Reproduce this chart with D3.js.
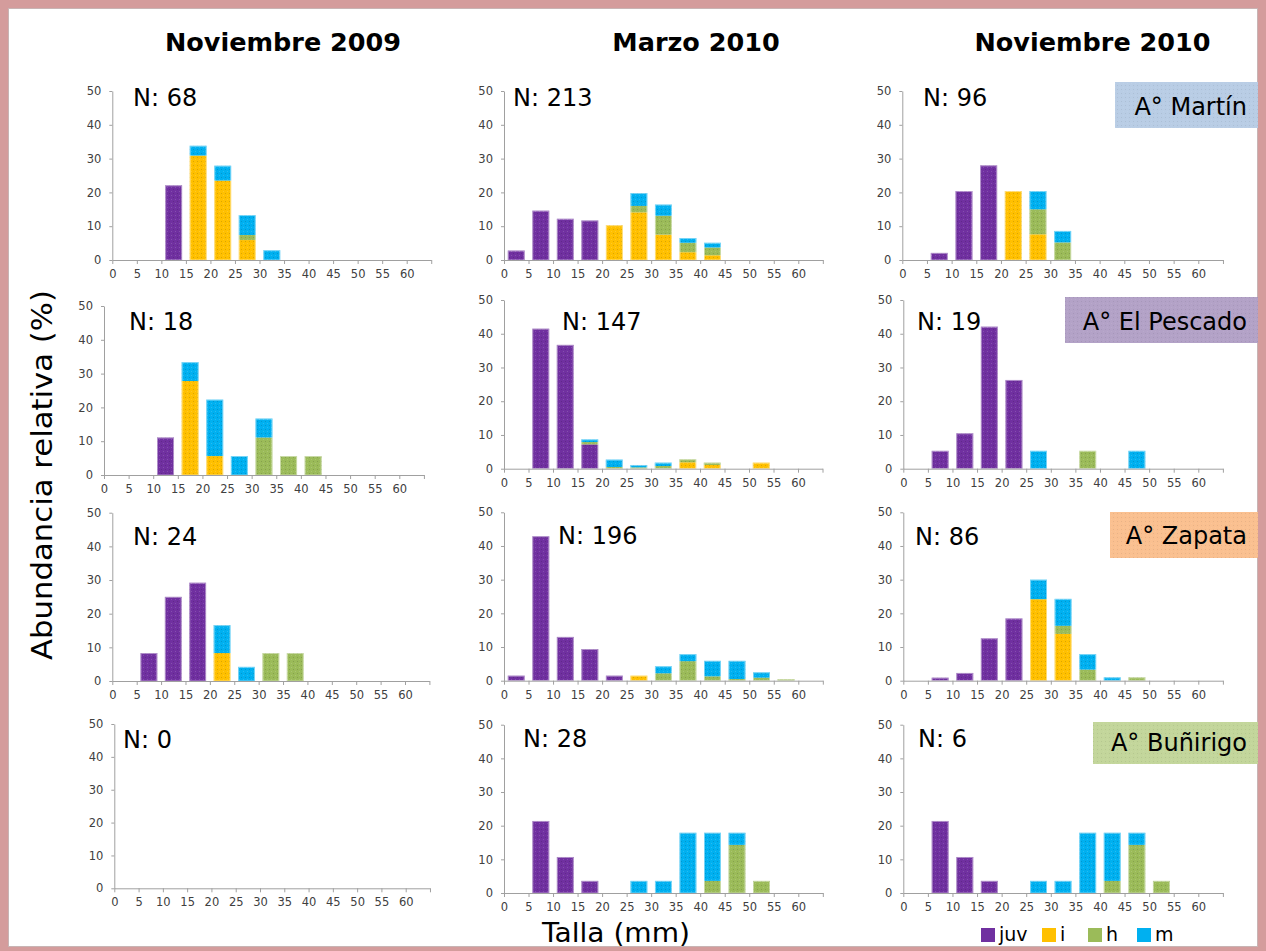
<!DOCTYPE html>
<html><head><meta charset="utf-8">
<script src="https://cdn.jsdelivr.net/npm/d3@7"></script>
<style>
body{margin:0;background:#fff}
svg{display:block}
text{font-family:"DejaVu Sans",Verdana,sans-serif}
</style>
</head><body>
<svg id="c" width="1266" height="951"></svg>
<script>
// ---------- DATA ----------
const binStarts = [0,5,10,15,20,25,30,35,40,45,50,55,60];
const seriesKeys = ["juv","i","h","m"];
const xTickValues = [0,5,10,15,20,25,30,35,40,45,50,55,60,65];
const yTickValues = [0,10,20,30,40,50];
const periods = ["Noviembre 2009","Marzo 2010","Noviembre 2010"];
const sites = ["A° Martín","A° El Pescado","A° Zapata","A° Buñirigo"];
const sampleN = [[68,213,96],[18,147,19],[24,196,86],[0,28,6]];

const martinNov09 = {
  juv:[0,0,22.1,0,0,0,0,0,0,0,0,0,0],
  i:  [0,0,0,30.9,23.5,5.9,0,0,0,0,0,0,0],
  h:  [0,0,0,0,0,1.5,0,0,0,0,0,0,0],
  m:  [0,0,0,2.9,4.4,5.9,2.9,0,0,0,0,0,0]};
const martinMar10 = {
  juv:[2.8,14.6,12.2,11.7,0,0,0,0,0,0,0,0,0],
  i:  [0,0,0,0,10.3,14.1,7.5,2.3,1.4,0,0,0,0],
  h:  [0,0,0,0,0,1.9,5.6,2.8,2.3,0,0,0,0],
  m:  [0,0,0,0,0,3.8,3.3,1.4,1.4,0,0,0,0]};
const martinNov10 = {
  juv:[0,2.1,20.4,28.0,0,0,0,0,0,0,0,0,0],
  i:  [0,0,0,0,20.4,7.6,0,0,0,0,0,0,0],
  h:  [0,0,0,0,0,7.4,5.2,0,0,0,0,0,0],
  m:  [0,0,0,0,0,5.4,3.4,0,0,0,0,0,0]};
const pescadoNov09 = {
  juv:[0,0,11.1,0,0,0,0,0,0,0,0,0,0],
  i:  [0,0,0,27.8,5.6,0,0,0,0,0,0,0,0],
  h:  [0,0,0,0,0,0,11.1,5.6,5.6,0,0,0,0],
  m:  [0,0,0,5.6,16.7,5.6,5.6,0,0,0,0,0,0]};
const pescadoMar10 = {
  juv:[0,41.5,36.7,7.2,0,0,0,0,0,0,0,0,0],
  i:  [0,0,0,0,0,0,0,1.9,1.1,0,1.8,0,0],
  h:  [0,0,0,0.7,0.5,0.4,0.8,0.9,0.7,0,0,0,0],
  m:  [0,0,0,0.8,2.2,0.7,1.0,0,0,0,0,0,0]};
const pescadoNov10 = {
  juv:[0,5.3,10.5,42.1,26.3,0,0,0,0,0,0,0,0],
  i:  [0,0,0,0,0,0,0,0,0,0,0,0,0],
  h:  [0,0,0,0,0,0,0,5.3,0,0,0,0,0],
  m:  [0,0,0,0,0,5.3,0,0,0,5.3,0,0,0]};
const zapataNov09 = {
  juv:[0,8.3,25.0,29.2,0,0,0,0,0,0,0,0,0],
  i:  [0,0,0,0,8.3,0,0,0,0,0,0,0,0],
  h:  [0,0,0,0,0,0,8.3,8.3,0,0,0,0,0],
  m:  [0,0,0,0,8.3,4.2,0,0,0,0,0,0,0]};
const zapataMar10 = {
  juv:[1.5,42.9,13.0,9.4,1.5,0,0,0,0,0,0,0,0],
  i:  [0,0,0,0,0,1.5,0,0,0,0,0,0,0],
  h:  [0,0,0,0,0,0,2.2,5.8,1.3,0.5,0.9,0.5,0],
  m:  [0,0,0,0,0,0,2.1,2.1,4.6,5.4,1.6,0,0]};
const zapataNov10 = {
  juv:[0,0.9,2.3,12.6,18.5,0,0,0,0,0,0,0,0],
  i:  [0,0,0,0,0,24.2,13.9,0,0,0,0,0,0],
  h:  [0,0,0,0,0,0,2.4,3.3,0,1.0,0,0,0],
  m:  [0,0,0,0,0,5.8,8.0,4.6,1.0,0,0,0,0]};
const bunirigoNov09 = {
  juv:[0,0,0,0,0,0,0,0,0,0,0,0,0],
  i:  [0,0,0,0,0,0,0,0,0,0,0,0,0],
  h:  [0,0,0,0,0,0,0,0,0,0,0,0,0],
  m:  [0,0,0,0,0,0,0,0,0,0,0,0,0]};
const bunirigoMar10 = {
  juv:[0,21.4,10.7,3.6,0,0,0,0,0,0,0,0,0],
  i:  [0,0,0,0,0,0,0,0,0,0,0,0,0],
  h:  [0,0,0,0,0,0,0,0,3.6,14.3,3.6,0,0],
  m:  [0,0,0,0,0,3.6,3.6,17.9,14.3,3.6,0,0,0]};
const bunirigoNov10 = {
  juv:[0,21.4,10.7,3.6,0,0,0,0,0,0,0,0,0],
  i:  [0,0,0,0,0,0,0,0,0,0,0,0,0],
  h:  [0,0,0,0,0,0,0,0,3.6,14.3,3.6,0,0],
  m:  [0,0,0,0,0,3.6,3.6,17.9,14.3,3.6,0,0,0]};

const panelData = [
  [martinNov09, martinMar10, martinNov10],
  [pescadoNov09, pescadoMar10, pescadoNov10],
  [zapataNov09, zapataMar10, zapataNov10],
  [bunirigoNov09, bunirigoMar10, bunirigoNov10]];

// ---------- LAYOUT / STYLE ----------
const colors = {juv:"#7030a0", i:"#ffc000", h:"#9bbb59", m:"#00b0f0"};
const frames = [
  [{x0:112.3,x60:406.7,y0:260,y50:91},{x0:504,x60:798.3,y0:260,y50:91},{x0:902.3,x60:1198.3,y0:260,y50:91}],
  [{x0:104,x60:399.3,y0:475,y50:306},{x0:504,x60:798,y0:468.7,y50:300},{x0:903.3,x60:1198.3,y0:468.7,y50:300}],
  [{x0:112.3,x60:405,y0:681,y50:512.7},{x0:504,x60:798.3,y0:680.7,y50:512.3},{x0:903.3,x60:1198.3,y0:680.7,y50:512.3}],
  [{x0:114.3,x60:405.7,y0:888.3,y50:724},{x0:504,x60:798.3,y0:893,y50:724.7},{x0:903.3,x60:1198.3,y0:893,y50:724.7}]];
const nPos = [
  [[133,106],[513,106],[923,106]],
  [[129,330],[562,330],[917,330]],
  [[133,545],[558,544],[915,545]],
  [[123,748],[523,747],[918,747]]];
const siteBoxes = [
  {x:1115,y:82,w:143,h:46,fill:"#b9cde5",base:115},
  {x:1065,y:297,w:193,h:46,fill:"#b3a2c7",base:330},
  {x:1110,y:512,w:148,h:46,fill:"#fac090",base:544},
  {x:1093,y:722,w:165,h:42,fill:"#c3d69b",base:751}];
const titleX = [283,696,1092.5];

const svg = d3.select("#c");
const defs = svg.append("defs");
const pat = defs.append("pattern").attr("id","dots").attr("patternUnits","userSpaceOnUse")
  .attr("width",4).attr("height",4);
pat.append("rect").attr("x",1).attr("y",1).attr("width",1).attr("height",1).attr("fill","rgba(0,0,0,0.14)");
pat.append("rect").attr("x",3).attr("y",3).attr("width",1).attr("height",1).attr("fill","rgba(255,255,255,0.15)");

svg.append("rect").attr("x",0).attr("y",0).attr("width",1266).attr("height",951).attr("fill","#fff");

// frame (drawn first so texts stay on top)
const frameColor = "#d49c9c";
svg.append("rect").attr("x",0).attr("y",0).attr("width",1266).attr("height",8).attr("fill",frameColor);
svg.append("rect").attr("x",0).attr("y",0).attr("width",8).attr("height",951).attr("fill",frameColor);
svg.append("rect").attr("x",1258).attr("y",0).attr("width",8).attr("height",951).attr("fill",frameColor);
svg.append("rect").attr("x",0).attr("y",947).attr("width",1266).attr("height",4).attr("fill",frameColor);
svg.append("rect").attr("x",8.5).attr("y",8.5).attr("width",1249).attr("height",938)
  .attr("fill","none").attr("stroke","#c8b4b4").attr("stroke-width",1);

// column titles
periods.forEach((p,c)=>{
  svg.append("text").attr("x",titleX[c]).attr("y",51).attr("text-anchor","middle")
    .attr("font-size",25.5).attr("font-weight","bold").attr("fill","#000").text(p);
});

const stack = d3.stack().keys(seriesKeys);

panelData.forEach((row,r)=>{
  row.forEach((pd,c)=>{
    const f = frames[r][c];
    const step = (f.x60-f.x0)/12;
    const x = d3.scaleLinear().domain([0,65]).range([f.x0, f.x0+13*step]);
    const y = d3.scaleLinear().domain([0,50]).range([f.y0, f.y50]);
    const band = d3.scaleBand().domain(binStarts).range([x(0),x(65)]).paddingInner(0.31).paddingOuter(0.155);
    const g = svg.append("g");
    const rows = binStarts.map((b,k)=>({bin:b, juv:pd.juv[k], i:pd.i[k], h:pd.h[k], m:pd.m[k]}));
    const layers = stack(rows);
    layers.forEach(layer=>{
      const segs = layer.filter(d=>d[1]-d[0]>0);
      g.selectAll(null).data(segs).enter().append("rect")
        .attr("x",d=>band(d.data.bin)).attr("width",band.bandwidth())
        .attr("y",d=>y(d[1])).attr("height",d=>y(d[0])-y(d[1]))
        .attr("fill",colors[layer.key]);
      g.selectAll(null).data(segs).enter().append("rect")
        .attr("x",d=>band(d.data.bin)).attr("width",band.bandwidth())
        .attr("y",d=>y(d[1])).attr("height",d=>y(d[0])-y(d[1]))
        .attr("fill","url(#dots)");
    });
    g.selectAll(null).data(rows.filter(d=>d.juv+d.i+d.h+d.m>0)).enter().append("rect")
      .attr("x",d=>band(d.bin)+0.5).attr("width",band.bandwidth()-1)
      .attr("y",d=>y(d.juv+d.i+d.h+d.m)+0.5).attr("height",d=>y(0)-y(d.juv+d.i+d.h+d.m)-0.5)
      .attr("fill","none").attr("stroke","rgba(255,255,255,0.45)").attr("stroke-width",1);

    const xa = svg.append("g").attr("transform",`translate(0,${f.y0})`)
      .call(d3.axisBottom(x).tickValues(xTickValues).tickSize(4).tickSizeOuter(0).tickPadding(6)
        .tickFormat(d=>d===65?"":d));
    const ya = svg.append("g").attr("transform",`translate(${f.x0},0)`)
      .call(d3.axisLeft(y).tickValues(yTickValues).tickSize(3).tickSizeOuter(0).tickPadding(8));
    [xa,ya].forEach(a=>{
      a.selectAll("path,line").attr("stroke","#a0a0a0");
      a.selectAll("text").attr("fill","#404040").attr("font-size",11.5)
        .attr("font-family","DejaVu Sans, Verdana, sans-serif");
    });

    svg.append("text").attr("x",nPos[r][c][0]).attr("y",nPos[r][c][1])
      .attr("font-size",24).attr("fill","#000").text("N: "+sampleN[r][c]);
  });
});

// site labels
sites.forEach((s,r)=>{
  const b = siteBoxes[r];
  svg.append("rect").attr("x",b.x).attr("y",b.y).attr("width",b.w).attr("height",b.h).attr("fill",b.fill);
  svg.append("rect").attr("x",b.x).attr("y",b.y).attr("width",b.w).attr("height",b.h).attr("fill","url(#dots)").attr("opacity",0.5);
  svg.append("text").attr("x",1247).attr("y",b.base).attr("text-anchor","end")
    .attr("font-size",24).attr("fill","#000").text(s);
});

// axis titles
svg.append("text").attr("transform","translate(52,475) rotate(-90)").attr("text-anchor","middle")
  .attr("font-size",29).attr("fill","#000").attr("textLength",370).attr("lengthAdjust","spacingAndGlyphs")
  .text("Abundancia relativa (%)");
svg.append("text").attr("x",616).attr("y",942).attr("text-anchor","middle")
  .attr("font-size",27).attr("fill","#000").attr("textLength",148).attr("lengthAdjust","spacingAndGlyphs")
  .text("Talla (mm)");

// legend
const legX = [981,1042,1088,1137];
seriesKeys.forEach((k,idx)=>{
  svg.append("rect").attr("x",legX[idx]).attr("y",928).attr("width",14).attr("height",14).attr("fill",colors[k]);
  svg.append("text").attr("x",legX[idx]+18).attr("y",941).attr("font-size",19).attr("fill","#000").text(k);
});
</script>
</body></html>
